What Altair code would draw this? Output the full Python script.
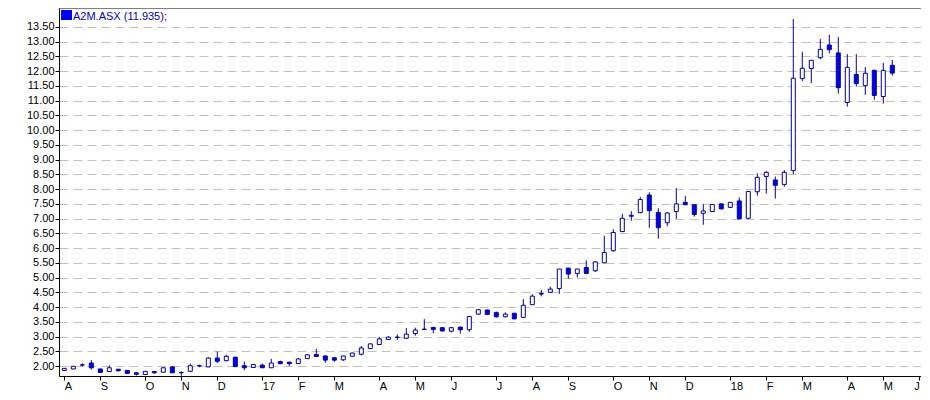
import altair as alt
import pandas as pd

# Weekly candles (week ending Friday), first week ending 2016-08-05
week_start = "2016-08-05"
n_axis_weeks = 96

opens = [1.85, 1.90, 2.03, 2.10, 1.90, 1.81, 1.89, 1.85, 1.77, 1.71,
         1.81, 1.79, 1.97, 1.77, 1.82, 2.00, 1.97, 2.27, 2.18, 2.30,
         2.01, 1.95, 2.03, 1.94, 2.15, 2.13, 2.08, 2.25, 2.39, 2.34,
         2.28, 2.21, 2.33, 2.40, 2.59, 2.73, 2.90, 2.97, 2.94, 3.10,
         3.24, 3.31, 3.30, 3.18, 3.32, 3.23, 3.76, 3.90, 3.81, 3.67,
         3.79, 3.65, 4.08, 4.44, 4.50, 4.63, 5.32, 5.14, 5.34, 5.23,
         5.50, 5.91, 6.56, 7.08, 7.20, 7.80, 7.21, 6.86, 7.24, 7.55,
         7.47, 7.18, 7.24, 7.50, 7.38, 7.60, 7.01, 7.91, 8.43, 8.31,
         8.16, 8.63, 11.75, 12.09, 12.46, 12.89, 12.62, 10.94, 11.89, 11.51,
         12.03, 11.14, 12.20]
highs = [1.93, 2.00, 2.09, 2.20, 1.91, 2.02, 1.90, 1.86, 1.78, 1.83,
         1.83, 1.95, 1.99, 1.82, 2.08, 2.05, 2.30, 2.49, 2.38, 2.31,
         2.15, 2.07, 2.08, 2.24, 2.18, 2.14, 2.27, 2.39, 2.58, 2.36,
         2.29, 2.35, 2.45, 2.68, 2.76, 2.99, 3.01, 3.07, 3.29, 3.30,
         3.59, 3.32, 3.31, 3.31, 3.33, 3.69, 3.92, 3.91, 3.85, 3.82,
         3.80, 4.27, 4.43, 4.58, 4.69, 5.29, 5.33, 5.30, 5.58, 5.56,
         6.42, 6.64, 7.16, 7.25, 7.74, 7.89, 7.35, 7.22, 8.03, 7.77,
         7.48, 7.50, 7.49, 7.51, 7.56, 7.72, 7.92, 8.54, 8.61, 8.43,
         8.65, 13.77, 12.66, 12.38, 13.09, 13.24, 13.16, 12.58, 12.58, 12.14,
         12.05, 12.28, 12.38]
lows = [1.84, 1.89, 1.98, 1.88, 1.76, 1.80, 1.81, 1.74, 1.68, 1.70,
        1.74, 1.78, 1.76, 1.67, 1.81, 1.96, 1.96, 2.10, 2.16, 1.97,
        1.86, 1.94, 1.93, 1.93, 2.06, 2.00, 2.07, 2.24, 2.31, 2.11,
        2.14, 2.17, 2.32, 2.36, 2.58, 2.72, 2.89, 2.88, 2.93, 3.03,
        3.23, 3.11, 3.17, 3.14, 3.10, 3.16, 3.75, 3.74, 3.64, 3.65,
        3.58, 3.64, 4.07, 4.36, 4.49, 4.45, 4.96, 5.00, 5.13, 5.19,
        5.48, 5.88, 6.54, 6.93, 7.18, 6.69, 6.32, 6.74, 6.99, 7.46,
        7.07, 6.79, 7.22, 7.31, 7.37, 6.99, 6.98, 7.78, 7.85, 7.68,
        8.08, 8.51, 11.67, 11.59, 12.40, 12.61, 11.24, 10.80, 11.48, 11.20,
        11.03, 10.90, 11.85]
closes = [1.92, 1.99, 2.04, 1.94, 1.78, 1.94, 1.84, 1.75, 1.72, 1.82,
          1.77, 1.94, 1.77, 1.78, 2.01, 2.01, 2.27, 2.16, 2.33, 1.98,
          1.94, 2.05, 1.94, 2.10, 2.08, 2.08, 2.24, 2.38, 2.32, 2.20,
          2.20, 2.34, 2.44, 2.61, 2.75, 2.92, 2.98, 2.98, 3.08, 3.22,
          3.25, 3.24, 3.19, 3.30, 3.23, 3.68, 3.91, 3.75, 3.67, 3.76,
          3.60, 4.06, 4.37, 4.46, 4.61, 5.29, 5.12, 5.29, 5.14, 5.53,
          5.85, 6.53, 7.01, 7.11, 7.65, 7.27, 6.69, 7.19, 7.50, 7.47,
          7.14, 7.26, 7.48, 7.33, 7.55, 6.99, 7.92, 8.40, 8.57, 8.13,
          8.57, 11.76, 12.10, 12.37, 12.74, 12.73, 11.44, 12.13, 11.58, 11.93,
          11.18, 12.03, 11.935]

ticker = "A2M.ASX"
month_labels = ["A", "S", "O", "N", "D", "17", "F", "M", "A", "M", "J", "J",
                "A", "S", "O", "N", "D", "18", "F", "M", "A", "M", "J"]
y_ticks = [2.0, 2.5, 3.0, 3.5, 4.0, 4.5, 5.0, 5.5, 6.0, 6.5, 7.0, 7.5,
           8.0, 8.5, 9.0, 9.5, 10.0, 10.5, 11.0, 11.5, 12.0, 12.5, 13.0, 13.5]

# week index of the first week of each month (axis ticks)
dates = pd.Series(pd.date_range(week_start, periods=n_axis_weeks, freq="7D"))
wk = pd.DataFrame({"d": dates, "i": range(n_axis_weeks)})
tick_weeks = [int(v) for v in wk.groupby([wk.d.dt.year, wk.d.dt.month])["i"].min().tolist()]

df = pd.DataFrame({
    "week": list(range(len(opens))),
    "date": dates[:len(opens)].dt.strftime("%Y-%m-%d"),
    "open": opens, "high": highs, "low": lows, "close": closes,
})

NAVY = "#00009c"
BLUE = "#0000ee"
FONT = "Liberation Sans"

label_expr = ("[" + ",".join("'%s'" % s for s in month_labels) + "][indexof(["
              + ",".join(str(v) for v in tick_weeks) + "], datum.value)]")
last_tick = tick_weeks[-1]

x_enc = alt.X("week:Q",
              scale=alt.Scale(domain=[-0.59, 95.19], nice=False, zero=False, padding=0),
              axis=alt.Axis(values=tick_weeks, labelExpr=label_expr, title=None,
                            grid=False, tickSize=4,
                            labelAlign=alt.condition("datum.value == %d" % last_tick,
                                                     alt.value("right"), alt.value("left")),
                            labelPadding=0, labelFlush=False, labelOverlap=False))


def y_enc(field):
    return alt.Y(field + ":Q",
                 scale=alt.Scale(domain=[1.661, 14.144], nice=False, zero=False, padding=0),
                 axis=alt.Axis(values=y_ticks, format=".2f", title=None,
                               tickSize=4, labelPadding=1, grid=True,
                               gridDash=[9, 5], gridColor="#c0c0c0",
                               gridWidth=1))


base = alt.Chart(df)

wicks = base.mark_rule(color=NAVY, strokeWidth=1).encode(
    x=x_enc, y=y_enc("low"), y2="high"
)

bodies = base.mark_bar(size=4, stroke=NAVY, strokeWidth=1).encode(
    x=x_enc, y=y_enc("open"), y2="close",
    fill=alt.condition("datum.close < datum.open", alt.value(BLUE), alt.value("white")),
)

legend_df = pd.DataFrame({"t": ["%s (%s);" % (ticker, closes[-1])]})
legend_sq = alt.Chart(legend_df).mark_rect(color="#0000ff").encode(
    x=alt.value(2), x2=alt.value(13), y=alt.value(2), y2=alt.value(12)
)
legend_txt = alt.Chart(legend_df).mark_text(
    align="left", baseline="alphabetic", font=FONT, fontSize=11, color="#0000cc"
).encode(x=alt.value(14), y=alt.value(12), text="t:N")

chart = alt.layer(wicks, bodies, legend_sq, legend_txt).properties(
    width=862, height=368,
    autosize=alt.AutoSizeParams(type="none"),
    padding={"left": 51, "top": 0, "right": 0, "bottom": 16},
    background="white",
).configure_view(
    stroke="#808080", strokeWidth=1
).configure_axis(
    labelFont=FONT, labelFontSize=11, labelColor="black",
    tickColor="black", domainColor="black", tickWidth=1, domainWidth=1,
)

chart.save("out.html", embed_options={"renderer": "svg", "actions": False})
